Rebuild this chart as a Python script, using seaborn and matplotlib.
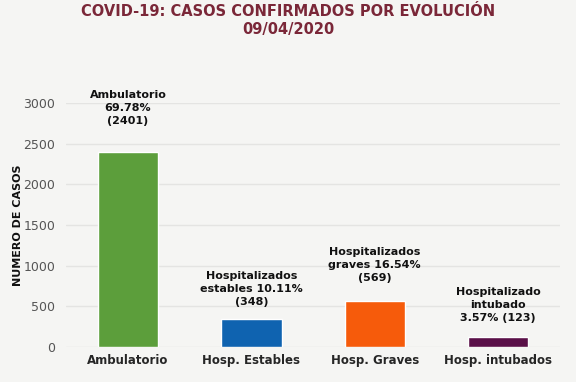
import matplotlib
matplotlib.use('Agg')
import matplotlib.pyplot as plt
import seaborn as sns
import pandas as pd

# data
categorias = ['Ambulatorio', 'Hosp. Estables', 'Hosp. Graves', 'Hosp. intubados']
casos = [2401, 348, 569, 123]
etiquetas = ['Ambulatorio\n69.78%\n(2401)',
             'Hospitalizados\nestables 10.11%\n(348)',
             'Hospitalizados\ngraves 16.54%\n(569)',
             'Hospitalizado\nintubado\n3.57% (123)']
colores = ['#5c9e3b', '#0f63b0', '#f65b0b', '#5a1048']

df = pd.DataFrame({'categoria': categorias, 'casos': casos})

sns.set_style('white')
plt.rcParams['font.family'] = ['DejaVu Sans']

fig = plt.figure(figsize=(5.76, 3.82), dpi=100)
fig.patch.set_facecolor('#f5f5f3')
ax = fig.add_axes([0.115, 0.0916, 0.857, 0.639])
ax.set_facecolor('#f5f5f3')

sns.barplot(data=df, x='categoria', y='casos', hue='categoria', palette=colores,
            width=0.49, legend=False, ax=ax, saturation=1)

ax.set_xlim(-0.5, 3.5)
ax.set_ylim(0, 3000)
ax.set_yticks(range(0, 3001, 500))
ax.yaxis.grid(True, color='#e4e4e2', linewidth=1)
ax.set_axisbelow(True)
for s in ax.spines.values():
    s.set_visible(False)
ax.tick_params(axis='y', colors='#555555', labelsize=9, length=0, pad=8)
ax.tick_params(axis='x', length=0, pad=5)
for lbl in ax.get_xticklabels():
    lbl.set_fontweight('bold')
    lbl.set_fontsize(8.5)
ax.set_xlabel('')
ax.set_ylabel('NUMERO DE CASOS', fontsize=8, fontweight='bold', labelpad=0, color='#111111')

gaps = [26, 12, 18, 14]
for i, (v, t) in enumerate(zip(casos, etiquetas)):
    ax.annotate(t, xy=(i, v), xytext=(0, gaps[i] * 0.72), textcoords='offset points',
                ha='center', va='bottom', fontsize=8, fontweight='bold',
                linespacing=1.35, annotation_clip=False, color='#111111')

fig.text(0.5, 0.99, 'COVID-19: CASOS CONFIRMADOS POR EVOLUCIÓN\n09/04/2020',
         ha='center', va='top', fontsize=10.5, fontweight='bold', color='#7a2738',
         linespacing=1.3)

fig.savefig('out.png', dpi=100, facecolor=fig.get_facecolor())
